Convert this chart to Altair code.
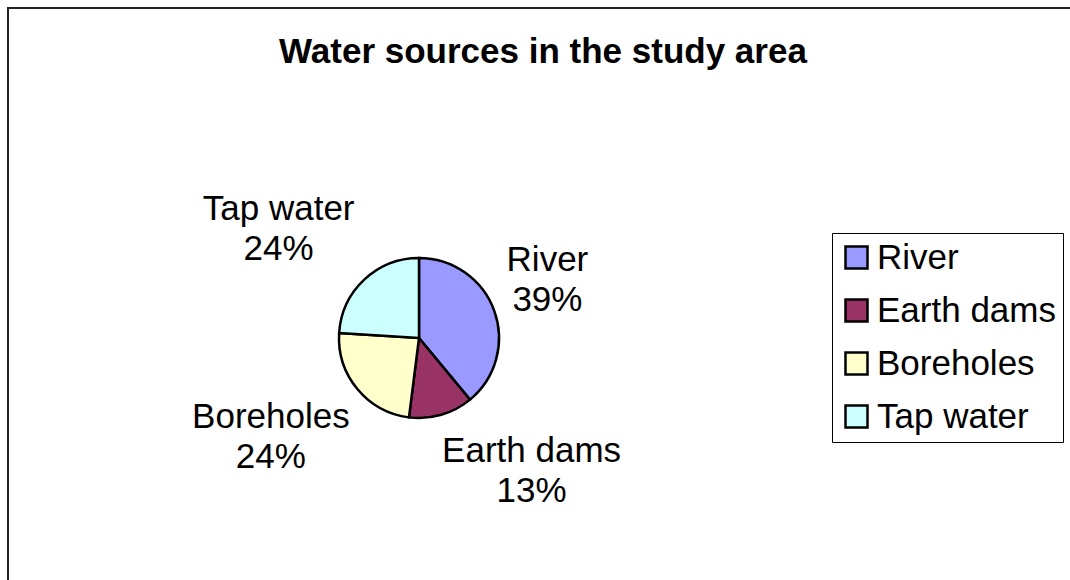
import altair as alt
import pandas as pd

# Water sources and their share (%) of the study area
sources = ["River", "Earth dams", "Boreholes", "Tap water"]
shares = [39, 13, 24, 24]
colors = ["#9999FF", "#993366", "#FFFFCC", "#CCFFFF"]

TITLE = "Water sources in the study area"
FONT = "Liberation Sans"
SIZE = 35

# Pie geometry (pixels)
CX, CY, R = 419, 338, 80
GAP_X = 10          # horizontal distance between pie edge and label box
GAP_Y = 24          # vertical distance between pie edge and label box
SHIFT_Y = -20       # baseline correction for two-line labels
HALF_H = 33         # half height of a two-line label
CHAR_HALF_W = 8.75  # half of an average glyph width at the label size

df = pd.DataFrame({"source": sources, "share": shares, "order": list(range(len(sources)))})
one = pd.DataFrame({"k": [0]})

base = alt.Chart(df)

pie = base.mark_arc(x=CX, y=CY, radius=R, stroke="black", strokeWidth=2.5).encode(
    theta=alt.Theta("share:Q", stack=True),
    order=alt.Order("order:Q"),
    color=alt.Color(
        "source:N",
        sort=sources,
        scale=alt.Scale(domain=sources, range=colors),
        legend=alt.Legend(
            title=None,
            orient="none",
            legendX=832,
            legendY=233,
            symbolType="square",
            symbolSize=484,
            symbolStrokeColor="black",
            symbolStrokeWidth=2.5,
            labelFont=FONT,
            labelFontSize=SIZE,
            labelColor="black",
            labelOffset=3,
            labelLimit=400,
            rowPadding=17,
            padding=7,
            strokeColor="black",
        ),
    ),
)

# Labels sit outside the slice, on the side of the pie the slice points to
labels = (
    base.transform_joinaggregate(total="sum(share)")
    .transform_window(cum="sum(share)", sort=[alt.SortField("order")], frame=[None, 0])
    .transform_calculate(
        mid="(datum.cum - datum.share / 2) / datum.total * 2 * PI",
        s="sin(datum.mid)",
        c="-cos(datum.mid)",
        hw=f"max(length(datum.source), 3) * {CHAR_HALF_W}",
        label="datum.source + '\\n' + datum.share + '%'",
        px=f"{CX} + {R + GAP_X} * datum.s + (datum.s >= 0 ? 1 : -1) * datum.hw",
        py=(
            f"{CY} + {SHIFT_Y} + {R + GAP_Y} * datum.c"
            f" + (datum.c >= 0 ? 1 : -1) * {HALF_H} * min(1, abs(datum.c) / 0.5)"
        ),
    )
    .mark_text(
        font=FONT, fontSize=SIZE, lineBreak="\n", lineHeight=40,
        align="center", baseline="middle", color="black",
    )
    .encode(
        x=alt.X("px:Q", scale=None),
        y=alt.Y("py:Q", scale=None),
        text="label:N",
    )
)

frame_left = alt.Chart(one).mark_rule(color="#222222", strokeWidth=2).encode(
    x=alt.value(8), y=alt.value(7), y2=alt.value(580)
)
frame_top = alt.Chart(one).mark_rule(color="#222222", strokeWidth=2).encode(
    x=alt.value(7), x2=alt.value(1070), y=alt.value(8)
)

title = alt.Chart(one).mark_text(
    font=FONT, fontSize=SIZE, fontWeight="bold", align="center", baseline="alphabetic", color="black"
).encode(x=alt.value(543), y=alt.value(63), text=alt.value(TITLE))

chart = (
    alt.layer(frame_left, frame_top, pie, labels, title)
    .properties(width=1070, height=580, padding=0, autosize="none", background="white")
    .configure_view(strokeWidth=0)
)

chart.save("out.html", embed_options={"renderer": "svg", "actions": False})
